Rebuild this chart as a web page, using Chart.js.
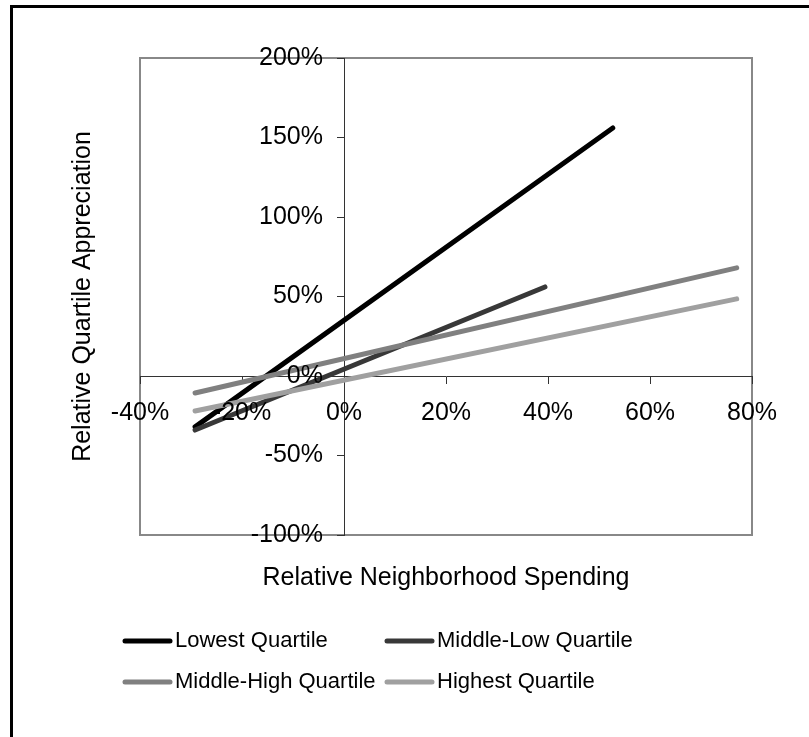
<!DOCTYPE html>
<html>
<head>
<meta charset="utf-8">
<script src="https://cdn.jsdelivr.net/npm/chart.js@4.4.1/dist/chart.umd.min.js"></script>
<style>
  body { margin: 0; background: #fff; }
  canvas { display: block; }
</style>
</head>
<body>
<canvas id="myChart" width="809" height="737"></canvas>
<script>
// series names and end points (x = relative spending %, y = relative appreciation %)
const seriesNames = ["Lowest Quartile", "Middle-Low Quartile", "Middle-High Quartile", "Highest Quartile"];
const lowestX = [-29.2, 52.7];
const lowestY = [-32, 156];
const middleLowX = [-29.2, 39.4];
const middleLowY = [-34, 56];
const middleHighX = [-29.2, 77];
const middleHighY = [-10.7, 68];
const highestX = [-29.2, 77];
const highestY = [-22, 48.5];

const xTitle = "Relative Neighborhood Spending";
const yTitle = "Relative Quartile Appreciation";

const seriesColors = ["#000000", "#383838", "#808080", "#a0a0a0"];
const FONT = "'Liberation Sans', Arial, sans-serif";

function toPoints(xs, ys) {
  return xs.map((x, i) => ({ x: x, y: ys[i] }));
}

const seriesData = [
  toPoints(lowestX, lowestY),
  toPoints(middleLowX, middleLowY),
  toPoints(middleHighX, middleHighY),
  toPoints(highestX, highestY),
];

// frame, plot border, axis titles and the two-column legend
const decorPlugin = {
  id: "decor",
  afterLayout(chart) {
    // y labels of a crossing axis sit right on the axis line, push them left past tick + padding
    chart.scales.y.getLabelItems().forEach((item) => {
      item.options.translation[0] -= 21;
    });
  },
  beforeDraw(chart) {
    const ctx = chart.ctx;
    ctx.save();
    ctx.fillStyle = "#fff";
    ctx.fillRect(0, 0, chart.width, chart.height);
    ctx.strokeStyle = "#000";
    ctx.lineWidth = 3;
    ctx.strokeRect(11.5, 6.5, 900, 900);
    const a = chart.chartArea;
    ctx.strokeStyle = "#888";
    ctx.lineWidth = 2;
    ctx.strokeRect(a.left, a.top, a.right - a.left, a.bottom - a.top);
    ctx.restore();
  },
  afterDraw(chart) {
    const ctx = chart.ctx;
    const a = chart.chartArea;
    ctx.save();
    ctx.fillStyle = "#000";
    ctx.font = "25px " + FONT;
    ctx.textAlign = "center";
    ctx.textBaseline = "middle";
    ctx.fillText(xTitle, (a.left + a.right) / 2, 578);
    ctx.translate(83, (a.top + a.bottom) / 2);
    ctx.rotate(-Math.PI / 2);
    ctx.fillText(yTitle, 0, 0);
    ctx.restore();

    // legend
    const colX = [125, 387];
    const rowY = [641, 682];
    ctx.save();
    ctx.font = "22px " + FONT;
    ctx.textAlign = "left";
    ctx.textBaseline = "middle";
    chart.data.datasets.forEach((ds, i) => {
      const x = colX[i % 2];
      const y = rowY[Math.floor(i / 2)];
      ctx.strokeStyle = ds.borderColor;
      ctx.lineWidth = ds.borderWidth;
      ctx.lineCap = "round";
      ctx.beginPath();
      ctx.moveTo(x, y);
      ctx.lineTo(x + 45, y);
      ctx.stroke();
      ctx.fillStyle = "#000";
      ctx.fillText(ds.label, x + 50, y);
    });
    ctx.restore();
  },
};

const datasets = seriesNames.map((name, i) => ({
  label: name,
  data: seriesData[i],
  borderColor: seriesColors[i],
  backgroundColor: seriesColors[i],
  borderWidth: 5,
  borderCapStyle: "round",
  pointRadius: 0,
  fill: false,
  order: seriesNames.length - i,
}));

const ctx = document.getElementById("myChart").getContext("2d");
new Chart(ctx, {
  type: "line",
  data: { datasets: datasets },
  options: {
    responsive: false,
    animation: false,
    layout: { padding: { left: 140, right: 57, top: 58, bottom: 202 } },
    plugins: { legend: { display: false }, tooltip: { enabled: false } },
    scales: {
      x: {
        type: "linear",
        position: { y: 0 },
        min: -40,
        max: 80,
        afterFit(scale) { scale.height = 0; },
        ticks: {
          stepSize: 20,
          autoSkip: false,
          maxRotation: 0,
          padding: 15,
          color: "#000",
          font: { family: FONT, size: 25 },
          callback: (v) => v + "%",
          z: 1,
        },
        grid: { drawOnChartArea: false, drawTicks: true, tickLength: 7, color: "#333" },
        border: { display: true, color: "#333", width: 1 },
      },
      y: {
        type: "linear",
        position: { x: 0 },
        min: -100,
        max: 200,
        afterFit(scale) { scale.width = 0; },
        ticks: {
          stepSize: 50,
          autoSkip: false,
          padding: 14,
          color: "#000",
          font: { family: FONT, size: 25 },
          callback: (v) => v + "%",
          z: 1,
        },
        grid: { drawOnChartArea: false, drawTicks: true, tickLength: 7, color: "#333" },
        border: { display: true, color: "#333", width: 1 },
      },
    },
  },
  plugins: [decorPlugin],
});
</script>
</body>
</html>
